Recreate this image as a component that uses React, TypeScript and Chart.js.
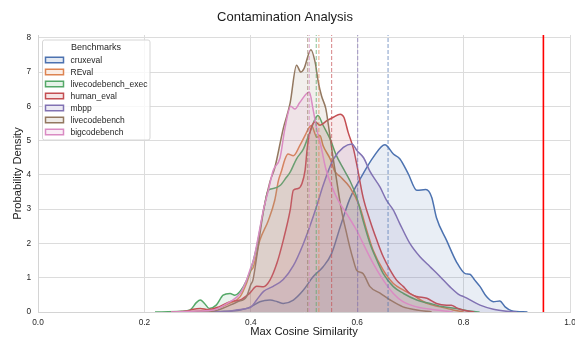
import React, { useEffect, useRef } from 'react';
import { Chart, registerables } from 'chart.js';

Chart.register(...registerables);

const FONT = "'Liberation Sans', Arial, sans-serif";

const seriesNames = ['cruxeval', 'REval', 'livecodebench_exec', 'human_eval', 'mbpp', 'livecodebench', 'bigcodebench'];
const seriesColors = ['#4C72B0', '#DD8452', '#55A868', '#C44E52', '#8172B3', '#937860', '#DA8BC3'];

const cruxevalX = [0.30, 0.35, 0.38, 0.40, 0.417, 0.436, 0.45, 0.461, 0.48, 0.499, 0.517, 0.536, 0.552, 0.568, 0.586, 0.599, 0.611, 0.63, 0.652, 0.668, 0.68, 0.696, 0.712, 0.729, 0.74, 0.749, 0.768, 0.787, 0.803, 0.812, 0.821, 0.831, 0.843, 0.856, 0.868, 0.878, 0.89, 0.92];
const cruxevalY = [0, 0.02, 0.06, 0.15, 0.3, 0.35, 0.3, 0.25, 0.35, 0.64, 1.03, 1.32, 1.71, 2.48, 3.3, 3.7, 4.03, 4.51, 4.88, 4.61, 4.47, 4.03, 3.55, 3.57, 3.35, 2.75, 2.09, 1.45, 1.12, 1.1, 0.93, 0.74, 0.45, 0.3, 0.32, 0.15, 0.04, 0];

const revalX = [0.25, 0.30, 0.33, 0.361, 0.38, 0.392, 0.40, 0.405, 0.417, 0.433, 0.445, 0.452, 0.458, 0.464, 0.470, 0.48, 0.492, 0.502, 0.51, 0.514, 0.524, 0.53, 0.536, 0.549, 0.558, 0.568, 0.586, 0.605, 0.618, 0.63, 0.649, 0.668, 0.687, 0.705, 0.731, 0.756, 0.78, 0.80];
const revalY = [0, 0.03, 0.08, 0.26, 0.45, 0.84, 1.2, 1.32, 2.09, 2.67, 3.26, 3.84, 4.13, 4.45, 4.61, 4.56, 4.85, 5.15, 5.39, 5.44, 5.1, 5.15, 4.85, 4.47, 4.1, 3.95, 3.64, 3.06, 2.38, 1.8, 1.22, 0.83, 0.64, 0.49, 0.25, 0.15, 0.06, 0];

const lcbExecX = [0.22, 0.27, 0.286, 0.298, 0.305, 0.313, 0.322, 0.335, 0.348, 0.361, 0.37, 0.386, 0.398, 0.411, 0.424, 0.433, 0.442, 0.455, 0.467, 0.474, 0.486, 0.499, 0.511, 0.526, 0.536, 0.549, 0.561, 0.574, 0.586, 0.599, 0.611, 0.624, 0.637, 0.649, 0.668, 0.687, 0.712, 0.737, 0.762, 0.787, 0.81, 0.83];
const lcbExecY = [0, 0.02, 0.06, 0.28, 0.35, 0.25, 0.1, 0.2, 0.49, 0.54, 0.49, 0.74, 1.15, 1.9, 2.97, 3.55, 3.6, 3.69, 3.93, 4.08, 4.47, 4.76, 5.24, 5.73, 5.44, 5.05, 4.56, 4.18, 3.84, 3.35, 2.67, 2.0, 1.51, 1.12, 0.74, 0.54, 0.35, 0.25, 0.15, 0.1, 0.03, 0];

const humanEvalX = [0.25, 0.28, 0.292, 0.305, 0.32, 0.34, 0.361, 0.38, 0.398, 0.411, 0.424, 0.436, 0.449, 0.461, 0.474, 0.48, 0.489, 0.496, 0.502, 0.506, 0.511, 0.521, 0.53, 0.543, 0.555, 0.568, 0.575, 0.583, 0.593, 0.599, 0.611, 0.624, 0.637, 0.649, 0.662, 0.674, 0.687, 0.699, 0.712, 0.731, 0.749, 0.768, 0.777, 0.787, 0.80, 0.82];
const humanEvalY = [0, 0.03, 0.08, 0.1, 0.07, 0.15, 0.3, 0.35, 0.55, 0.75, 0.74, 0.93, 1.42, 2.09, 2.97, 3.55, 3.6, 3.74, 4.13, 4.76, 5.24, 5.55, 5.45, 5.58, 5.68, 5.77, 5.68, 5.24, 4.76, 4.32, 3.35, 2.67, 2.09, 1.61, 1.22, 0.93, 0.74, 0.54, 0.45, 0.4, 0.25, 0.2, 0.2, 0.12, 0.05, 0];

const mbppX = [0.33, 0.36, 0.373, 0.392, 0.40, 0.411, 0.424, 0.442, 0.461, 0.48, 0.499, 0.511, 0.524, 0.536, 0.555, 0.574, 0.59, 0.60, 0.612, 0.624, 0.643, 0.655, 0.668, 0.68, 0.699, 0.718, 0.737, 0.756, 0.774, 0.793, 0.80, 0.831, 0.856, 0.881, 0.90];
const mbppY = [0, 0.02, 0.06, 0.1, 0.14, 0.35, 0.6, 0.75, 0.95, 1.35, 2.0, 2.5, 3.1, 3.7, 4.45, 4.8, 4.9, 4.7, 4.5, 4.1, 3.64, 3.26, 2.97, 2.58, 2.0, 1.61, 1.32, 1.03, 0.74, 0.49, 0.45, 0.2, 0.08, 0.02, 0];

const lcbX = [0.28, 0.33, 0.361, 0.375, 0.392, 0.40, 0.404, 0.411, 0.424, 0.436, 0.445, 0.461, 0.474, 0.486, 0.494, 0.50, 0.513, 0.521, 0.527, 0.533, 0.541, 0.546, 0.554, 0.56, 0.57, 0.58, 0.586, 0.593, 0.599, 0.611, 0.624, 0.643, 0.662, 0.686, 0.712, 0.74];
const lcbY = [0, 0.03, 0.2, 0.3, 0.45, 0.8, 0.93, 1.6, 2.97, 3.8, 4.2, 5.35, 6.1, 7.2, 7.0, 7.1, 7.65, 7.28, 6.7, 6.3, 5.93, 5.44, 4.56, 3.98, 3.0, 2.3, 1.9, 1.5, 1.22, 1.12, 0.74, 0.55, 0.35, 0.15, 0.06, 0];

const bcbX = [0.25, 0.30, 0.33, 0.361, 0.38, 0.392, 0.40, 0.405, 0.414, 0.424, 0.433, 0.442, 0.455, 0.464, 0.475, 0.483, 0.492, 0.51, 0.517, 0.524, 0.533, 0.541, 0.561, 0.58, 0.586, 0.599, 0.611, 0.63, 0.649, 0.668, 0.686, 0.712, 0.749, 0.78];
const bcbY = [0, 0.03, 0.06, 0.3, 0.54, 0.93, 1.3, 1.51, 2.19, 3.0, 3.55, 4.13, 4.5, 5.34, 6.0, 5.92, 6.11, 6.42, 5.92, 5.34, 4.76, 4.18, 3.35, 2.87, 2.72, 2.38, 2.0, 1.42, 0.93, 0.54, 0.3, 0.15, 0.06, 0];

const seriesX = [cruxevalX, revalX, lcbExecX, humanEvalX, mbppX, lcbX, bcbX];
const seriesY = [cruxevalY, revalY, lcbExecY, humanEvalY, mbppY, lcbY, bcbY];

const meanValues = [0.658, 0.528, 0.523, 0.552, 0.601, 0.507, 0.510];
const thresholdValue = 0.95;

const xTickValues = [0, 0.2, 0.4, 0.6, 0.8, 1.0];
const yTickValues = [0, 1, 2, 3, 4, 5, 6, 7, 8];
const X_MIN = 0;
const X_MAX = 1;
const Y_MIN = 0;
const Y_MAX = 8.08;

function hexToRgba(hex: string, a: number) {
  const n = parseInt(hex.slice(1), 16);
  return `rgba(${(n >> 16) & 255},${(n >> 8) & 255},${n & 255},${a})`;
}

const legendPlugin = {
  id: 'insideLegend',
  afterDatasetsDraw(chart: any) {
    const ctx = chart.ctx;
    const area = chart.chartArea;
    ctx.save();
    const bx = area.left + 4.5;
    const by = area.top + 5;
    const bw = 107.5;
    const bh = 100;
    ctx.beginPath();
    const r = 2;
    ctx.moveTo(bx + r, by);
    ctx.lineTo(bx + bw - r, by);
    ctx.quadraticCurveTo(bx + bw, by, bx + bw, by + r);
    ctx.lineTo(bx + bw, by + bh - r);
    ctx.quadraticCurveTo(bx + bw, by + bh, bx + bw - r, by + bh);
    ctx.lineTo(bx + r, by + bh);
    ctx.quadraticCurveTo(bx, by + bh, bx, by + bh - r);
    ctx.lineTo(bx, by + r);
    ctx.quadraticCurveTo(bx, by, bx + r, by);
    ctx.closePath();
    ctx.fillStyle = 'rgba(255,255,255,0.8)';
    ctx.fill();
    ctx.strokeStyle = '#d6d6d6';
    ctx.lineWidth = 1;
    ctx.stroke();

    ctx.fillStyle = '#262626';
    ctx.font = `9px ${FONT}`;
    ctx.textAlign = 'center';
    ctx.textBaseline = 'middle';
    ctx.fillText('Benchmarks', bx + 53.5, by + 7.5);

    ctx.font = `8.5px ${FONT}`;
    ctx.textAlign = 'left';
    seriesNames.forEach((name, i) => {
      const cy = by + 20 + i * 12;
      ctx.fillStyle = '#ffffff';
      ctx.fillRect(bx + 3, cy - 2.75, 18, 5.5);
      ctx.fillStyle = hexToRgba(seriesColors[i], 0.15);
      ctx.fillRect(bx + 3, cy - 2.75, 18, 5.5);
      ctx.strokeStyle = seriesColors[i];
      ctx.lineWidth = 1.5;
      ctx.strokeRect(bx + 3, cy - 2.75, 18, 5.5);
      ctx.fillStyle = '#262626';
      ctx.fillText(name, bx + 28, cy + 0.5);
    });
    ctx.restore();
  },
};

export default function App() {
  const canvasRef = useRef<HTMLCanvasElement | null>(null);

  useEffect(() => {
    document.body.style.margin = '0';
    const canvas = canvasRef.current;
    if (!canvas) return;

    const kdeSets = seriesNames.map((name, i) => ({
      type: 'line' as const,
      label: name,
      data: seriesX[i].map((x, j) => ({ x, y: seriesY[i][j] })),
      borderColor: seriesColors[i],
      backgroundColor: hexToRgba(seriesColors[i], 0.12),
      borderWidth: 1.5,
      pointRadius: 0,
      fill: 'origin',
      cubicInterpolationMode: 'monotone' as const,
      order: 10 - i,
    }));

    const meanSets = meanValues.map((m, i) => ({
      type: 'line' as const,
      label: `${seriesNames[i]} mean`,
      data: [{ x: m, y: Y_MIN }, { x: m, y: Y_MAX }],
      borderColor: hexToRgba(seriesColors[i], 0.7),
      borderWidth: 1,
      borderDash: [4, 2],
      pointRadius: 0,
      fill: false,
      order: 1,
    }));

    const thresholdSet = {
      type: 'line' as const,
      label: 'threshold',
      data: [{ x: thresholdValue, y: Y_MIN }, { x: thresholdValue, y: Y_MAX }],
      borderColor: '#ff0000',
      borderWidth: 1.6,
      pointRadius: 0,
      fill: false,
      order: 0,
    };

    const chart = new Chart(canvas, {
      type: 'line',
      data: { datasets: [...kdeSets, ...meanSets, thresholdSet] as any },
      plugins: [legendPlugin],
      options: {
        responsive: false,
        animation: false,
        devicePixelRatio: 1,
        layout: { padding: { left: 0, right: 5, top: 0, bottom: 0 } },
        plugins: {
          legend: { display: false },
          tooltip: { enabled: false },
          title: {
            display: true,
            text: 'Contamination Analysis',
            color: '#1a1a1a',
            font: { family: FONT, size: 13, weight: 'normal' },
            padding: { top: 10, bottom: 9.4 },
          },
        },
        scales: {
          x: {
            type: 'linear',
            min: X_MIN,
            max: X_MAX,
            afterBuildTicks: (scale: any) => {
              scale.ticks = xTickValues.map((v) => ({ value: v }));
            },
            afterFit: (scale: any) => {
              scale.height = 28;
              scale.paddingLeft = 0;
              scale.paddingRight = 0;
            },
            ticks: {
              color: '#262626',
              font: { family: FONT, size: 8.3 },
              padding: 5.5,
              maxRotation: 0,
              autoSkip: false,
              callback: (v: any) => Number(v).toFixed(1),
            },
            grid: { color: '#dcdcdc', lineWidth: 1, drawTicks: false },
            border: { color: '#d4d4d4', width: 1 },
            title: {
              display: true,
              text: 'Max Cosine Similarity',
              color: '#1a1a1a',
              font: { family: FONT, size: 11.2 },
              padding: { top: 0, bottom: 1.5 },
            },
          },
          y: {
            type: 'linear',
            min: Y_MIN,
            max: Y_MAX,
            afterBuildTicks: (scale: any) => {
              scale.ticks = yTickValues.map((v) => ({ value: v }));
            },
            afterFit: (scale: any) => {
              scale.width = 38;
            },
            ticks: {
              color: '#262626',
              font: { family: FONT, size: 8.3 },
              padding: 7,
              autoSkip: false,
              callback: (v: any) => String(v),
            },
            grid: { color: '#dcdcdc', lineWidth: 1, drawTicks: false },
            border: { color: '#d4d4d4', width: 1 },
            title: {
              display: true,
              text: 'Probability Density',
              color: '#1a1a1a',
              font: { family: FONT, size: 11.2 },
              padding: { top: 11, bottom: 0 },
            },
          },
        },
      },
    });

    return () => {
      chart.destroy();
    };
  }, []);

  return (
    <div style={{ width: 575, height: 340 }}>
      <canvas ref={canvasRef} width={575} height={340} style={{ display: 'block', width: 575, height: 340 }} />
    </div>
  );
}
